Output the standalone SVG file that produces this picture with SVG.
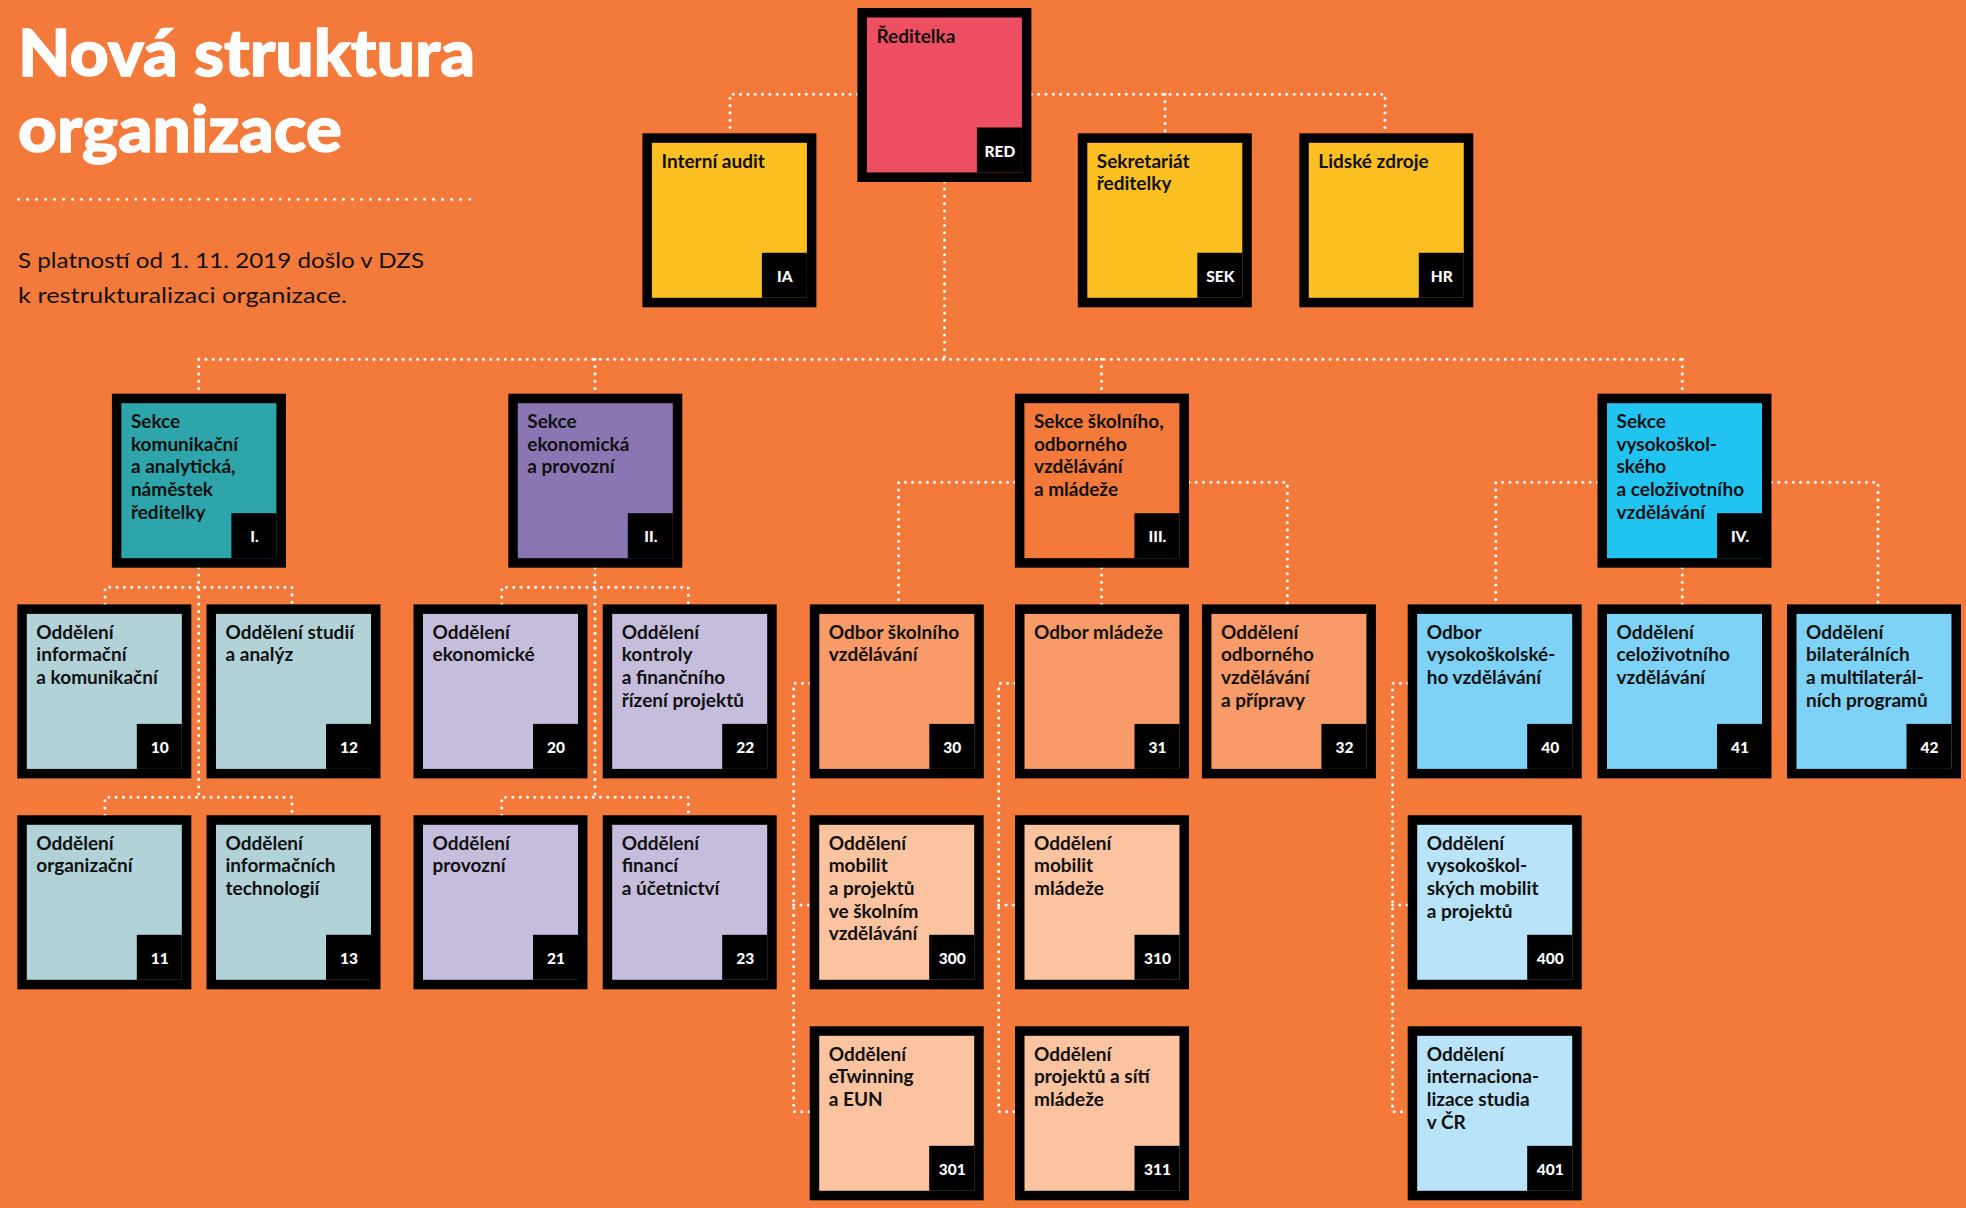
<svg xmlns="http://www.w3.org/2000/svg" width="1966" height="1208" viewBox="0 0 1966 1208">
<style>
.bg{fill:#F47A3C}
.frame{fill:#000}
.corner{fill:#000}
.lbl{font-family:Lato,"Liberation Sans",sans-serif;font-weight:700;font-size:19px;fill:#111}
.code{font-family:Lato,"Liberation Sans",sans-serif;font-weight:900;font-size:15.5px;fill:#fff;text-anchor:middle}
.red{fill:#EE4F62}.yel{fill:#FDC023}.teal{fill:#2DA5AA}.lteal{fill:#B1D3D7}
.pur{fill:#8A76B3}.lav{fill:#C6BDDC}.org{fill:#F47A3C}.sal{fill:#F89B68}.pea{fill:#FBC3A0}
.cyan{fill:#21C3F1}.lblue{fill:#7DD2F6}.pblue{fill:#B8E3F9}
.dots{fill:none;stroke:#fff;stroke-width:3.1;stroke-linecap:round;stroke-dasharray:0 7.3}
.title{font-family:Lato,"Liberation Sans",sans-serif;font-weight:900;font-size:65px;fill:#fff;stroke:#fff;stroke-width:1.3}
.sub{font-family:Lato,"Liberation Sans",sans-serif;font-weight:400;font-size:22px;fill:#111}
</style>
<rect class="bg" x="0" y="0" width="1966" height="1208"/>

<g id="heading">
<text class="title" x="18" y="76" textLength="457" lengthAdjust="spacingAndGlyphs">Nová struktura</text>
<text class="title" x="18" y="152" textLength="324" lengthAdjust="spacingAndGlyphs">organizace</text>
<line x1="18.5" y1="199.3" x2="478.7" y2="199.3" style="fill:none;stroke:#fff;stroke-width:3;stroke-linecap:round;stroke-dasharray:0 9.024"/>
<text class="sub" x="18" y="267.7" textLength="406" lengthAdjust="spacingAndGlyphs">S platností od 1. 11. 2019 došlo v DZS</text>
<text class="sub" x="18" y="302.7" textLength="329" lengthAdjust="spacingAndGlyphs">k restrukturalizaci organizace.</text>
</g>

<g id="connectors" class="dots">
<path d="M857.4,94.3 H730 V133.3"/>
<path d="M1031.4,94.3 H1385 V133.3"/>
<path d="M1165,94.3 V133.3"/>
<path d="M944.5,181.7 V359.3"/>
<path d="M198.7,359.3 H1682.5"/>
<path d="M198.7,359.3 V393.7"/>
<path d="M595,359.3 V393.7"/>
<path d="M1101.5,359.3 V393.7"/>
<path d="M1682.3,359.3 V393.7"/>
<path d="M198.7,567.7 V797.3"/>
<path d="M105,604.4 V587.3 H292 V604.4"/>
<path d="M105,815.3 V797.3 H292 V815.3"/>
<path d="M595,567.7 V797.3"/>
<path d="M501.7,604.4 V587.3 H688.3 V604.4"/>
<path d="M501.7,815.3 V797.3 H688.3 V815.3"/>
<path d="M1014.9,482.3 H898.6 V604.4"/>
<path d="M1188.9,482.3 H1287.3 V604.4"/>
<path d="M1101.5,567.7 V604.4"/>
<path d="M809.8,683.3 H793.7 V1111.7 H809.7"/>
<path d="M793.7,905 H809.7"/>
<path d="M1015,683.3 H998.7 V1111.7 H1015"/>
<path d="M998.7,905 H1015"/>
<path d="M1597.5,482.3 H1495.8 V604.4"/>
<path d="M1771.5,482.3 H1878 V604.4"/>
<path d="M1682.3,567.7 V604.4"/>
<path d="M1407.7,683.3 H1392.5 V1111.7 H1407.7"/>
<path d="M1392.5,905 H1407.7"/>
</g>

<g id="RED" transform="translate(857.4,8)"><rect class="frame" width="174" height="174"/><rect class="red" x="9.5" y="9.5" width="155" height="155"/><rect class="corner" x="119.5" y="119.5" width="45" height="45"/><text class="lbl"><tspan x="19" y="34.5">Ředitelka</tspan></text><text class="code" x="142.5" y="148.5">RED</text></g>
<g id="IA" transform="translate(642.4,133.3)"><rect class="frame" width="174" height="174"/><rect class="yel" x="9.5" y="9.5" width="155" height="155"/><rect class="corner" x="119.5" y="119.5" width="45" height="45"/><text class="lbl"><tspan x="19" y="34.5">Interní audit</tspan></text><text class="code" x="142.5" y="148.5">IA</text></g>
<g id="SEK" transform="translate(1077.8,133.3)"><rect class="frame" width="174" height="174"/><rect class="yel" x="9.5" y="9.5" width="155" height="155"/><rect class="corner" x="119.5" y="119.5" width="45" height="45"/><text class="lbl"><tspan x="19" y="34.5">Sekretariát</tspan><tspan x="19" dy="22.6">ředitelky</tspan></text><text class="code" x="142.5" y="148.5">SEK</text></g>
<g id="HR" transform="translate(1299.3,133.3)"><rect class="frame" width="174" height="174"/><rect class="yel" x="9.5" y="9.5" width="155" height="155"/><rect class="corner" x="119.5" y="119.5" width="45" height="45"/><text class="lbl"><tspan x="19" y="34.5">Lidské zdroje</tspan></text><text class="code" x="142.5" y="148.5">HR</text></g>

<g id="S1" transform="translate(111.9,393.7)"><rect class="frame" width="174" height="174"/><rect class="teal" x="9.5" y="9.5" width="155" height="155"/><rect class="corner" x="119.5" y="119.5" width="45" height="45"/><text class="lbl"><tspan x="19" y="34.5">Sekce</tspan><tspan x="19" dy="22.6">komunikační</tspan><tspan x="19" dy="22.6">a analytická,</tspan><tspan x="19" dy="22.6">náměstek</tspan><tspan x="19" dy="22.6">ředitelky</tspan></text><text class="code" x="142.5" y="148.5">I.</text></g>
<g id="S2" transform="translate(508.3,393.7)"><rect class="frame" width="174" height="174"/><rect class="pur" x="9.5" y="9.5" width="155" height="155"/><rect class="corner" x="119.5" y="119.5" width="45" height="45"/><text class="lbl"><tspan x="19" y="34.5">Sekce</tspan><tspan x="19" dy="22.6">ekonomická</tspan><tspan x="19" dy="22.6">a provozní</tspan></text><text class="code" x="142.5" y="148.5">II.</text></g>
<g id="S3" transform="translate(1014.9,393.7)"><rect class="frame" width="174" height="174"/><rect class="org" x="9.5" y="9.5" width="155" height="155"/><rect class="corner" x="119.5" y="119.5" width="45" height="45"/><text class="lbl"><tspan x="19" y="34.5">Sekce školního,</tspan><tspan x="19" dy="22.6">odborného</tspan><tspan x="19" dy="22.6">vzdělávání</tspan><tspan x="19" dy="22.6">a mládeže</tspan></text><text class="code" x="142.5" y="148.5">III.</text></g>
<g id="S4" transform="translate(1597.5,393.7)"><rect class="frame" width="174" height="174"/><rect class="cyan" x="9.5" y="9.5" width="155" height="155"/><rect class="corner" x="119.5" y="119.5" width="45" height="45"/><text class="lbl"><tspan x="19" y="34.5">Sekce</tspan><tspan x="19" dy="22.6">vysokoškol-</tspan><tspan x="19" dy="22.6">ského</tspan><tspan x="19" dy="22.6">a celoživotního</tspan><tspan x="19" dy="22.6">vzdělávání</tspan></text><text class="code" x="142.5" y="148.5">IV.</text></g>

<g id="D10" transform="translate(17.3,604.4)"><rect class="frame" width="174" height="174"/><rect class="lteal" x="9.5" y="9.5" width="155" height="155"/><rect class="corner" x="119.5" y="119.5" width="45" height="45"/><text class="lbl"><tspan x="19" y="34.5">Oddělení</tspan><tspan x="19" dy="22.6">informační</tspan><tspan x="19" dy="22.6">a komunikační</tspan></text><text class="code" x="142.5" y="148.5">10</text></g>
<g id="D12" transform="translate(206.5,604.4)"><rect class="frame" width="174" height="174"/><rect class="lteal" x="9.5" y="9.5" width="155" height="155"/><rect class="corner" x="119.5" y="119.5" width="45" height="45"/><text class="lbl"><tspan x="19" y="34.5">Oddělení studií</tspan><tspan x="19" dy="22.6">a analýz</tspan></text><text class="code" x="142.5" y="148.5">12</text></g>
<g id="D11" transform="translate(17.3,815.3)"><rect class="frame" width="174" height="174"/><rect class="lteal" x="9.5" y="9.5" width="155" height="155"/><rect class="corner" x="119.5" y="119.5" width="45" height="45"/><text class="lbl"><tspan x="19" y="34.5">Oddělení</tspan><tspan x="19" dy="22.6">organizační</tspan></text><text class="code" x="142.5" y="148.5">11</text></g>
<g id="D13" transform="translate(206.5,815.3)"><rect class="frame" width="174" height="174"/><rect class="lteal" x="9.5" y="9.5" width="155" height="155"/><rect class="corner" x="119.5" y="119.5" width="45" height="45"/><text class="lbl"><tspan x="19" y="34.5">Oddělení</tspan><tspan x="19" dy="22.6">informačních</tspan><tspan x="19" dy="22.6">technologií</tspan></text><text class="code" x="142.5" y="148.5">13</text></g>

<g id="D20" transform="translate(413.5,604.4)"><rect class="frame" width="174" height="174"/><rect class="lav" x="9.5" y="9.5" width="155" height="155"/><rect class="corner" x="119.5" y="119.5" width="45" height="45"/><text class="lbl"><tspan x="19" y="34.5">Oddělení</tspan><tspan x="19" dy="22.6">ekonomické</tspan></text><text class="code" x="142.5" y="148.5">20</text></g>
<g id="D22" transform="translate(602.7,604.4)"><rect class="frame" width="174" height="174"/><rect class="lav" x="9.5" y="9.5" width="155" height="155"/><rect class="corner" x="119.5" y="119.5" width="45" height="45"/><text class="lbl"><tspan x="19" y="34.5">Oddělení</tspan><tspan x="19" dy="22.6">kontroly</tspan><tspan x="19" dy="22.6">a finančního</tspan><tspan x="19" dy="22.6">řízení projektů</tspan></text><text class="code" x="142.5" y="148.5">22</text></g>
<g id="D21" transform="translate(413.5,815.3)"><rect class="frame" width="174" height="174"/><rect class="lav" x="9.5" y="9.5" width="155" height="155"/><rect class="corner" x="119.5" y="119.5" width="45" height="45"/><text class="lbl"><tspan x="19" y="34.5">Oddělení</tspan><tspan x="19" dy="22.6">provozní</tspan></text><text class="code" x="142.5" y="148.5">21</text></g>
<g id="D23" transform="translate(602.7,815.3)"><rect class="frame" width="174" height="174"/><rect class="lav" x="9.5" y="9.5" width="155" height="155"/><rect class="corner" x="119.5" y="119.5" width="45" height="45"/><text class="lbl"><tspan x="19" y="34.5">Oddělení</tspan><tspan x="19" dy="22.6">financí</tspan><tspan x="19" dy="22.6">a účetnictví</tspan></text><text class="code" x="142.5" y="148.5">23</text></g>

<g id="D30" transform="translate(809.8,604.4)"><rect class="frame" width="174" height="174"/><rect class="sal" x="9.5" y="9.5" width="155" height="155"/><rect class="corner" x="119.5" y="119.5" width="45" height="45"/><text class="lbl"><tspan x="19" y="34.5">Odbor školního</tspan><tspan x="19" dy="22.6">vzdělávání</tspan></text><text class="code" x="142.5" y="148.5">30</text></g>
<g id="D31" transform="translate(1015,604.4)"><rect class="frame" width="174" height="174"/><rect class="sal" x="9.5" y="9.5" width="155" height="155"/><rect class="corner" x="119.5" y="119.5" width="45" height="45"/><text class="lbl"><tspan x="19" y="34.5">Odbor mládeže</tspan></text><text class="code" x="142.5" y="148.5">31</text></g>
<g id="D32" transform="translate(1201.9,604.4)"><rect class="frame" width="174" height="174"/><rect class="sal" x="9.5" y="9.5" width="155" height="155"/><rect class="corner" x="119.5" y="119.5" width="45" height="45"/><text class="lbl"><tspan x="19" y="34.5">Oddělení</tspan><tspan x="19" dy="22.6">odborného</tspan><tspan x="19" dy="22.6">vzdělávání</tspan><tspan x="19" dy="22.6">a přípravy</tspan></text><text class="code" x="142.5" y="148.5">32</text></g>
<g id="D300" transform="translate(809.7,815.3)"><rect class="frame" width="174" height="174"/><rect class="pea" x="9.5" y="9.5" width="155" height="155"/><rect class="corner" x="119.5" y="119.5" width="45" height="45"/><text class="lbl"><tspan x="19" y="34.5">Oddělení</tspan><tspan x="19" dy="22.6">mobilit</tspan><tspan x="19" dy="22.6">a projektů</tspan><tspan x="19" dy="22.6">ve školním</tspan><tspan x="19" dy="22.6">vzdělávání</tspan></text><text class="code" x="142.5" y="148.5">300</text></g>
<g id="D301" transform="translate(809.7,1026.3)"><rect class="frame" width="174" height="174"/><rect class="pea" x="9.5" y="9.5" width="155" height="155"/><rect class="corner" x="119.5" y="119.5" width="45" height="45"/><text class="lbl"><tspan x="19" y="34.5">Oddělení</tspan><tspan x="19" dy="22.6">eTwinning</tspan><tspan x="19" dy="22.6">a EUN</tspan></text><text class="code" x="142.5" y="148.5">301</text></g>
<g id="D310" transform="translate(1015,815.3)"><rect class="frame" width="174" height="174"/><rect class="pea" x="9.5" y="9.5" width="155" height="155"/><rect class="corner" x="119.5" y="119.5" width="45" height="45"/><text class="lbl"><tspan x="19" y="34.5">Oddělení</tspan><tspan x="19" dy="22.6">mobilit</tspan><tspan x="19" dy="22.6">mládeže</tspan></text><text class="code" x="142.5" y="148.5">310</text></g>
<g id="D311" transform="translate(1015,1026.3)"><rect class="frame" width="174" height="174"/><rect class="pea" x="9.5" y="9.5" width="155" height="155"/><rect class="corner" x="119.5" y="119.5" width="45" height="45"/><text class="lbl"><tspan x="19" y="34.5">Oddělení</tspan><tspan x="19" dy="22.6">projektů a sítí</tspan><tspan x="19" dy="22.6">mládeže</tspan></text><text class="code" x="142.5" y="148.5">311</text></g>

<g id="D40" transform="translate(1407.7,604.4)"><rect class="frame" width="174" height="174"/><rect class="lblue" x="9.5" y="9.5" width="155" height="155"/><rect class="corner" x="119.5" y="119.5" width="45" height="45"/><text class="lbl"><tspan x="19" y="34.5">Odbor</tspan><tspan x="19" dy="22.6">vysokoškolské-</tspan><tspan x="19" dy="22.6">ho vzdělávání</tspan></text><text class="code" x="142.5" y="148.5">40</text></g>
<g id="D41" transform="translate(1597.5,604.4)"><rect class="frame" width="174" height="174"/><rect class="lblue" x="9.5" y="9.5" width="155" height="155"/><rect class="corner" x="119.5" y="119.5" width="45" height="45"/><text class="lbl"><tspan x="19" y="34.5">Oddělení</tspan><tspan x="19" dy="22.6">celoživotního</tspan><tspan x="19" dy="22.6">vzdělávání</tspan></text><text class="code" x="142.5" y="148.5">41</text></g>
<g id="D42" transform="translate(1787,604.4)"><rect class="frame" width="174" height="174"/><rect class="lblue" x="9.5" y="9.5" width="155" height="155"/><rect class="corner" x="119.5" y="119.5" width="45" height="45"/><text class="lbl"><tspan x="19" y="34.5">Oddělení</tspan><tspan x="19" dy="22.6">bilaterálních</tspan><tspan x="19" dy="22.6">a multilaterál-</tspan><tspan x="19" dy="22.6">ních programů</tspan></text><text class="code" x="142.5" y="148.5">42</text></g>
<g id="D400" transform="translate(1407.7,815.3)"><rect class="frame" width="174" height="174"/><rect class="pblue" x="9.5" y="9.5" width="155" height="155"/><rect class="corner" x="119.5" y="119.5" width="45" height="45"/><text class="lbl"><tspan x="19" y="34.5">Oddělení</tspan><tspan x="19" dy="22.6">vysokoškol-</tspan><tspan x="19" dy="22.6">ských mobilit</tspan><tspan x="19" dy="22.6">a projektů</tspan></text><text class="code" x="142.5" y="148.5">400</text></g>
<g id="D401" transform="translate(1407.7,1026.3)"><rect class="frame" width="174" height="174"/><rect class="pblue" x="9.5" y="9.5" width="155" height="155"/><rect class="corner" x="119.5" y="119.5" width="45" height="45"/><text class="lbl"><tspan x="19" y="34.5">Oddělení</tspan><tspan x="19" dy="22.6">internaciona-</tspan><tspan x="19" dy="22.6">lizace studia</tspan><tspan x="19" dy="22.6">v ČR</tspan></text><text class="code" x="142.5" y="148.5">401</text></g>
</svg>
